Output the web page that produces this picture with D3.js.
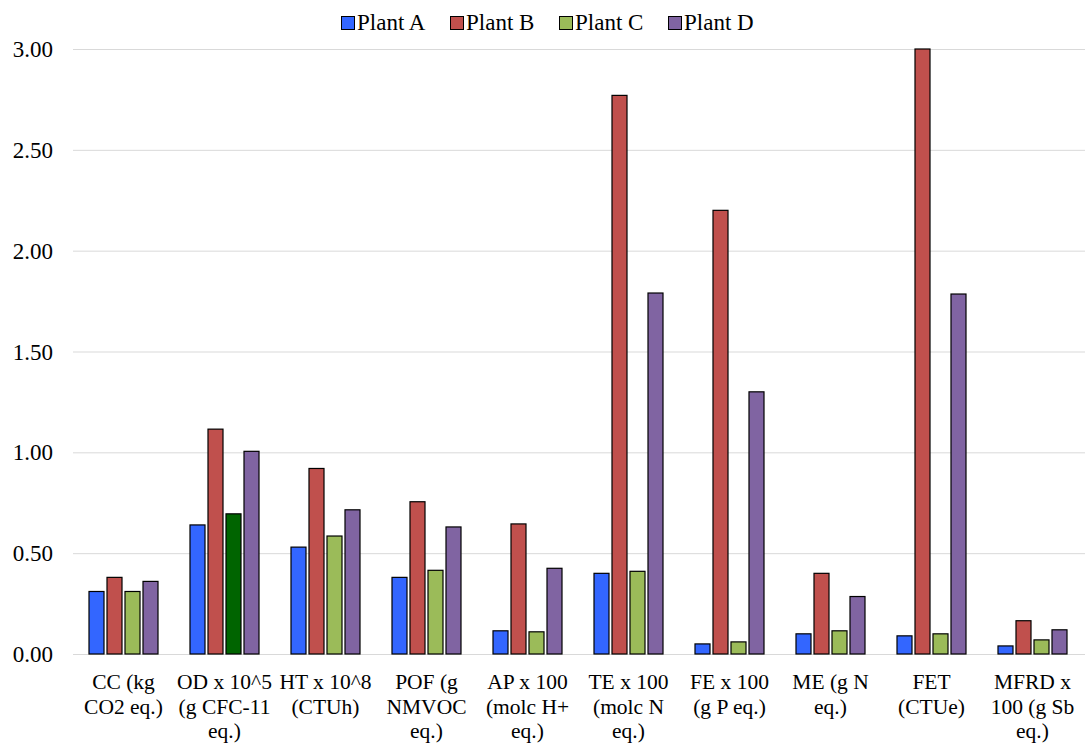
<!DOCTYPE html>
<html><head><meta charset="utf-8">
<script src="https://cdn.jsdelivr.net/npm/d3@7"></script>
<style>body{margin:0;background:#fff}svg{display:block}</style>
</head><body><svg id="c" width="1087" height="744"></svg>
<script>
const categories = [
  ["CC (kg","CO2 eq.)"],
  ["OD x 10^5","(g CFC-11","eq.)"],
  ["HT x 10^8","(CTUh)"],
  ["POF (g","NMVOC","eq.)"],
  ["AP x 100","(molc H+","eq.)"],
  ["TE x 100","(molc N","eq.)"],
  ["FE x 100","(g P eq.)"],
  ["ME (g N","eq.)"],
  ["FET","(CTUe)"],
  ["MFRD x","100 (g Sb","eq.)"]
];
const seriesNames = ["Plant A","Plant B","Plant C","Plant D"];
const plantA = [0.31,0.64,0.53,0.38,0.115,0.40,0.05,0.10,0.09,0.04];
const plantB = [0.38,1.115,0.92,0.755,0.645,2.77,2.20,0.40,3.00,0.165];
const plantC = [0.31,0.695,0.585,0.415,0.11,0.41,0.06,0.115,0.10,0.07];
const plantD = [0.36,1.005,0.715,0.63,0.425,1.79,1.30,0.285,1.785,0.12];
const yTicks = [0,0.5,1,1.5,2,2.5,3];
const colors = ["#3366FF","#C0504D","#9BBB59","#8064A2"];
const specialColor = {series:2, index:1, color:"#006400"};

const FONT = "Liberation Serif";
const values = [plantA,plantB,plantC,plantD];
const svg = d3.select("#c").attr("font-family",FONT);
const m = {l:73,r:1083,t:49,b:654};
const x = d3.scaleBand().domain(d3.range(categories.length)).range([m.l,m.r]);
const y = d3.scaleLinear().domain([0,3]).range([m.b,m.t]);
const barW = 15, step = 18;

// grid
svg.append("g").selectAll("line").data(yTicks).join("line")
  .attr("x1",m.l).attr("x2",1085).attr("y1",d=>y(d)+0.5).attr("y2",d=>y(d)+0.5)
  .attr("stroke","#d9d9d9").attr("stroke-width",1);
svg.append("g").selectAll("text").data(yTicks).join("text")
  .attr("font-family",FONT)
  .attr("x",53).attr("y",d=>y(d)+8).attr("text-anchor","end")
  .attr("font-size",23).attr("fill","#000").text(d=>d.toFixed(2));

// bars
const g = svg.append("g");
values.forEach((vals,s)=>{
  g.selectAll(null).data(vals).join("rect")
    .attr("x",(d,i)=>x(i)+x.bandwidth()/2 + (s-2)*step + (step-barW)/2)
    .attr("width",barW)
    .attr("y",d=>y(Math.min(d,3)))
    .attr("height",d=>y(0)-y(Math.min(d,3)))
    .attr("fill",(d,i)=> (s===specialColor.series && i===specialColor.index)?specialColor.color:colors[s])
    .attr("stroke","#000").attr("stroke-width",1.2);
});

// category labels
const lab = svg.append("g");
categories.forEach((lines,i)=>{
  const cx = x(i)+x.bandwidth()/2;
  const t = lab.append("text").attr("text-anchor","middle").attr("font-size",21.5)
    .attr("font-family",FONT).attr("fill","#000")
    .attr("x",cx).attr("y",689);
  lines.forEach((ln,k)=>t.append("tspan").attr("x",cx).attr("y",689+k*24.5).text(ln));
});

// legend
const lg = svg.append("g");
seriesNames.forEach((n,s)=>{
  const lx = 341 + s*109;
  lg.append("rect").attr("x",lx+0.5).attr("y",16.5).attr("width",13).attr("height",13)
    .attr("fill",colors[s]).attr("stroke","#000").attr("stroke-width",1);
  lg.append("text").attr("x",lx+16).attr("y",30).attr("font-size",23)
    .attr("font-family",FONT).attr("fill","#000").text(n);
});
</script></body></html>
